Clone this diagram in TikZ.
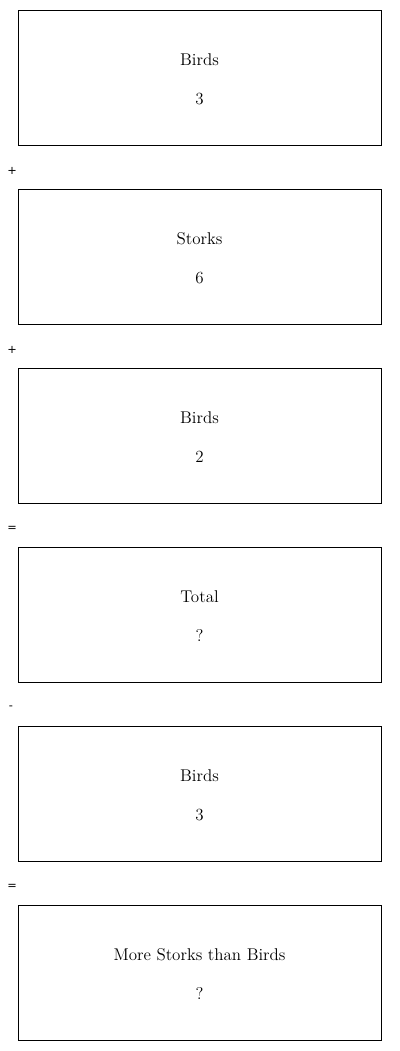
\documentclass[tikz,border=0pt]{standalone}
\usepackage{fontspec}
\newfontfamily\opfont{DejaVu Sans}
\usetikzlibrary{positioning}
\tikzset{
  box/.style={draw,line width=0.75pt,minimum width=272.25pt,minimum height=101.25pt,
    inner sep=0pt,outer sep=0pt,align=center,font=\fontsize{12.75}{13}\selectfont},
  op/.style={font=\opfont\fontsize{8.5}{10}\selectfont,inner sep=0pt},
}
% top strut pushes the two lines down a little
\newcommand{\topgap}{\rule{0pt}{11.5pt}}
\begin{document}
\begin{tikzpicture}[x=0.75pt,y=-0.75pt]
  \useasboundingbox (0,0) rectangle (400,1051);
  \node[box] (birdsa) at (199.5,77.5) {\topgap Birds\\[16pt]3};
  \node[box,below=33pt of birdsa] (storks) {\topgap Storks\\[16pt]6};
  \node[box,below=33pt of storks] (birdsb) {\topgap Birds\\[16pt]2};
  \node[box,below=33pt of birdsb] (total) {\topgap Total\\[16pt]?};
  \node[box,below=33pt of total] (birdsc) {\topgap Birds\\[16pt]3};
  \node[box,below=33pt of birdsc] (more) {\topgap More Storks than Birds\\[16pt]?};
  % operators between the boxes
  \node[op] (plusa) at (12,170.5) {+};
  \node[op] (plusb) at (12,349.5) {+};
  \node[op] (eqa) at (12,528.5) {=};
  \node[op] (minus) at (11,707.5) {-};
  \node[op] (eqb) at (12,886.5) {=};
\end{tikzpicture}
\end{document}
